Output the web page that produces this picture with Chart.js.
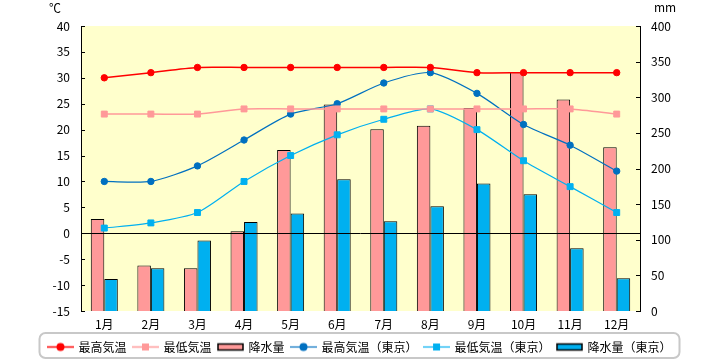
<!DOCTYPE html>
<html lang="ja">
<head>
<meta charset="utf-8">
<title>気温と降水量</title>
<script src="https://cdn.jsdelivr.net/npm/chart.js@4/dist/chart.umd.min.js"></script>
<style>
  body { margin: 0; background: #fff; }
  #wrap { width: 720px; height: 360px; }
</style>
</head>
<body>
<div id="wrap"><canvas id="myChart" width="720" height="360"></canvas></div>
<script>
const months = ['1月', '2月', '3月', '4月', '5月', '6月', '7月', '8月', '9月', '10月', '11月', '12月']
const highTemp = [30, 31, 32, 32, 32, 32, 32, 32, 31, 31, 31, 31]
const lowTemp = [23, 23, 23, 24, 24, 24, 24, 24, 24, 24, 24, 23]
const rain = [129, 64, 60, 112, 226, 290, 255, 260, 285, 335, 297, 230]
const tokyoHigh = [10, 10, 13, 18, 23, 25, 29, 31, 27, 21, 17, 12]
const tokyoLow = [1, 2, 4, 10, 15, 19, 22, 24, 20, 14, 9, 4]
const tokyoRain = [45, 60, 99, 125, 137, 185, 126, 147, 179, 164, 88, 46]

const tempTicks = { min: -15, max: 40, step: 5 }
const rainTicks = { min: 0, max: 400, step: 50 }

Chart.defaults.font.family = "'Noto Sans CJK JP', sans-serif"
Chart.defaults.font.size = 12
Chart.defaults.color = '#000'

// legend icons: a short line with its marker, or a small outlined bar
const lineIcon = (color, shape, lw) => {
  const c = document.createElement('canvas')
  c.width = 27
  c.height = 11
  const g = c.getContext('2d')
  g.strokeStyle = color
  g.lineWidth = lw
  g.beginPath()
  g.moveTo(0, 5.5)
  g.lineTo(27, 5.5)
  g.stroke()
  g.fillStyle = color
  if (shape === 'circle') {
    g.beginPath()
    g.arc(13.5, 5.5, 4, 0, Math.PI * 2)
    g.fill()
  } else {
    g.fillRect(10, 2, 7, 7)
  }
  return c
}
const barIcon = (color) => {
  const c = document.createElement('canvas')
  c.width = 27
  c.height = 11
  const g = c.getContext('2d')
  g.fillStyle = color
  g.fillRect(1, 2.5, 25, 6)
  g.strokeStyle = '#000'
  g.lineWidth = 1.5
  g.strokeRect(1, 2.5, 25, 6)
  return c
}

const lineSet = (label, data, color, style, lw) => ({
  type: 'line',
  label: label,
  data: data,
  yAxisID: 'y',
  order: 1,
  borderColor: color,
  backgroundColor: color,
  borderWidth: lw,
  tension: 0.25,
  pointStyle: style,
  pointRadius: style === 'circle' ? 3.2 : 4.2,
  pointBorderWidth: 1,
  pointBorderColor: color,
  pointBackgroundColor: color,
  icon: lineIcon(color, style, lw)
})
const barSet = (label, data, color) => ({
  type: 'bar',
  label: label,
  data: data,
  yAxisID: 'y1',
  order: 2,
  backgroundColor: color,
  borderColor: '#000',
  borderWidth: 1,
  categoryPercentage: 0.58,
  barPercentage: 1,
  icon: barIcon(color)
})

const decor = {
  id: 'decor',
  beforeDraw(chart) {
    const { ctx, chartArea: a } = chart
    ctx.save()
    ctx.fillStyle = '#FFFFCC'
    ctx.fillRect(a.left, a.top, a.right - a.left, a.bottom - a.top)
    ctx.restore()
  },
  afterDatasetsDraw(chart) {
    const { ctx, chartArea: a, scales } = chart
    ctx.save()
    ctx.strokeStyle = '#000'
    ctx.lineWidth = 1
    ctx.beginPath()
    const z = Math.round(scales.y.getPixelForValue(0)) + 0.5
    ctx.moveTo(a.left, z)
    ctx.lineTo(a.right, z)
    scales.y.ticks.forEach((t) => {
      const p = Math.round(scales.y.getPixelForValue(t.value)) + 0.5
      ctx.moveTo(a.left, p)
      ctx.lineTo(a.left + 4, p)
    })
    scales.y1.ticks.forEach((t) => {
      const p = Math.round(scales.y1.getPixelForValue(t.value)) + 0.5
      ctx.moveTo(a.right - 4, p)
      ctx.lineTo(a.right, p)
    })
    ctx.stroke()
    ctx.restore()
  },
  afterDraw(chart) {
    const { ctx, chartArea: a } = chart
    ctx.save()
    ctx.fillStyle = '#000'
    ctx.font = "12px 'Noto Sans CJK JP', sans-serif"
    ctx.textAlign = 'center'
    ctx.textBaseline = 'middle'
    ctx.fillText('℃', a.left - 26, 8)
    ctx.fillText('mm', a.right + 25, 7)

    // rounded frame round the legend
    const boxes = chart.legend.legendHitBoxes
    if (boxes && boxes.length) {
      const l = Math.min(...boxes.map((b) => b.left)) - 9
      const r = Math.max(...boxes.map((b) => b.left + b.width)) + 8
      const t = boxes[0].top - 8
      const bt = boxes[0].top + boxes[0].height + 5
      ctx.strokeStyle = '#C8C8C8'
      ctx.lineWidth = 2
      ctx.beginPath()
      ctx.roundRect(l, t, r - l, bt - t, 6)
      ctx.stroke()
    }
    ctx.restore()
  }
}

const config = {
  type: 'bar',
  data: {
    labels: months,
    datasets: [
      lineSet('最高気温', highTemp, '#FF0000', 'circle', 1.5),
      lineSet('最低気温', lowTemp, '#FF9999', 'rect', 1.5),
      barSet('降水量', rain, '#FF9999'),
      lineSet('最高気温（東京）', tokyoHigh, '#0070C0', 'circle', 1.2),
      lineSet('最低気温（東京）', tokyoLow, '#00B0F0', 'rect', 1.2),
      barSet('降水量（東京）', tokyoRain, '#00B0F0')
    ]
  },
  options: {
    responsive: false,
    devicePixelRatio: 1,
    animation: false,
    layout: { padding: { top: 26, left: 0, right: 0, bottom: -3 } },
    scales: {
      x: {
        grid: { display: false, drawTicks: false },
        border: { display: false },
        ticks: { padding: 6, color: '#000' },
        afterFit: (s) => { s.height = 23 }
      },
      y: {
        position: 'left',
        min: tempTicks.min,
        max: tempTicks.max,
        ticks: { stepSize: tempTicks.step, padding: 11, color: '#000' },
        grid: { display: false, drawTicks: false },
        border: { display: true, color: '#000', width: 1 },
        afterFit: (s) => { s.width = 81 }
      },
      y1: {
        position: 'right',
        min: rainTicks.min,
        max: rainTicks.max,
        ticks: { stepSize: rainTicks.step, padding: 11, color: '#000' },
        grid: { display: false, drawTicks: false },
        border: { display: true, color: '#000', width: 1 },
        afterFit: (s) => { s.width = 80 }
      }
    },
    plugins: {
      tooltip: { enabled: false },
      legend: {
        position: 'bottom',
        onClick: null,
        labels: {
          usePointStyle: true,
          pointStyleWidth: 24,
          padding: 7,
          color: '#000',
          generateLabels: (chart) => chart.data.datasets.map((ds, i) => ({
            text: ds.label,
            pointStyle: ds.icon,
            fillStyle: ds.backgroundColor,
            strokeStyle: ds.borderColor,
            lineWidth: 0,
            hidden: false,
            fontColor: '#000',
            datasetIndex: i
          }))
        }
      }
    }
  },
  plugins: [decor]
}

const myChart = new Chart(document.getElementById('myChart'), config)
</script>
</body>
</html>
